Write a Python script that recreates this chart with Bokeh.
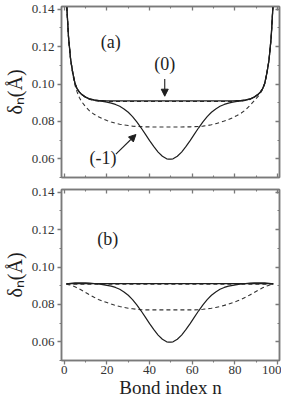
from bokeh.plotting import figure
from bokeh.models import (LinearAxis, FixedTicker, PrintfTickFormatter, Label, Arrow,
                          NormalHead, Range1d, CustomJSTickFormatter)
from bokeh.layouts import column
from bokeh.embed import file_html
from bokeh.resources import INLINE

# ---------------- data ----------------
bond_n = [1, 2, 3, 4, 5, 6, 7, 8, 10, 12, 14, 16, 18, 20, 22, 24, 26, 28, 30, 32, 34, 36, 38, 40,
          42, 44, 46, 48, 49, 50, 51, 53, 55, 57, 59, 61, 63, 65, 67, 69, 71, 73, 75, 77, 79, 81,
          83, 85, 87, 89, 91, 92, 93, 94, 95, 96, 97, 98]

# panel (a)
a_solid_0 = [0.1450, 0.1250, 0.1130, 0.1060, 0.1005, 0.0975, 0.0958, 0.0946,
             0.0930, 0.0920, 0.0915, 0.0912, 0.0911, 0.0910, 0.0910, 0.0910, 0.0910, 0.0910,
             0.0910, 0.0910, 0.0910, 0.0910, 0.0910, 0.0910, 0.0910, 0.0910, 0.0910, 0.0910,
             0.0910, 0.0910,
             0.0910, 0.0910, 0.0910, 0.0910, 0.0910, 0.0910, 0.0910, 0.0910, 0.0910, 0.0910,
             0.0910, 0.0910, 0.0910, 0.0910, 0.0910, 0.0911, 0.0912, 0.0915, 0.0920, 0.0930,
             0.0946, 0.0958, 0.0975, 0.1005, 0.1060, 0.1130, 0.1250, 0.1450]
a_dash_0 = [0.1450, 0.1250, 0.1130, 0.1060, 0.1005, 0.0975, 0.0958, 0.0946,
            0.0929, 0.0918, 0.0912, 0.0909, 0.0908, 0.0907, 0.0907, 0.0907, 0.0907, 0.0907,
            0.0907, 0.0907, 0.0907, 0.0907, 0.0907, 0.0907, 0.0907, 0.0907, 0.0907, 0.0907,
            0.0907, 0.0907,
            0.0907, 0.0907, 0.0907, 0.0907, 0.0907, 0.0907, 0.0907, 0.0907, 0.0907, 0.0907,
            0.0907, 0.0907, 0.0907, 0.0907, 0.0907, 0.0908, 0.0909, 0.0912, 0.0918, 0.0929,
            0.0946, 0.0958, 0.0975, 0.1005, 0.1060, 0.1130, 0.1250, 0.1450]
a_solid_m1 = [0.1450, 0.1250, 0.1130, 0.1060, 0.1005, 0.0975, 0.0958, 0.0946,
              0.0930, 0.0919, 0.0914, 0.0910, 0.0907, 0.0903, 0.0898, 0.0891, 0.0881, 0.0867,
              0.0849, 0.0826, 0.0798, 0.0766, 0.0732, 0.0697, 0.0665, 0.0636, 0.0614, 0.0600,
              0.0598, 0.0598,
              0.0600, 0.0614, 0.0636, 0.0665, 0.0697, 0.0732, 0.0766, 0.0798, 0.0826, 0.0849,
              0.0867, 0.0881, 0.0891, 0.0898, 0.0903, 0.0907, 0.0910, 0.0914, 0.0919, 0.0930,
              0.0946, 0.0958, 0.0975, 0.1005, 0.1060, 0.1130, 0.1250, 0.1450]
a_dash_m1 = [0.1450, 0.1250, 0.1125, 0.1050, 0.0995, 0.0958, 0.0930, 0.0908,
             0.0878, 0.0855, 0.0838, 0.0825, 0.0814, 0.0805, 0.0797, 0.0790, 0.0785, 0.0781,
             0.0778, 0.0775, 0.0773, 0.0772, 0.0771, 0.0771, 0.0770, 0.0770, 0.0770, 0.0770,
             0.0770, 0.0770,
             0.0770, 0.0770, 0.0770, 0.0771, 0.0771, 0.0772, 0.0773, 0.0775, 0.0778, 0.0782,
             0.0788, 0.0795, 0.0802, 0.0810, 0.0820, 0.0832, 0.0845, 0.0862, 0.0885, 0.0910,
             0.0936, 0.0952, 0.0972, 0.1002, 0.1056, 0.1128, 0.1250, 0.1450]

# panel (b)
b_solid_0 = [0.0911, 0.0911, 0.0911, 0.0911, 0.0911, 0.0911, 0.0911, 0.0911, 0.0911, 0.0911,
             0.0911, 0.0911, 0.0911, 0.0911, 0.0911, 0.0911, 0.0911, 0.0911, 0.0911, 0.0911,
             0.0911, 0.0911, 0.0911, 0.0911, 0.0911, 0.0911, 0.0911, 0.0911, 0.0911, 0.0911,
             0.0911, 0.0911, 0.0911, 0.0911, 0.0911, 0.0911, 0.0911, 0.0911, 0.0911, 0.0911,
             0.0911, 0.0911, 0.0911, 0.0911, 0.0911, 0.0911, 0.0911, 0.0911, 0.0911, 0.0911,
             0.0911, 0.0911, 0.0911, 0.0911, 0.0911, 0.0911, 0.0911, 0.0911]
b_dash_0 = [0.0908, 0.0908, 0.0908, 0.0908, 0.0908, 0.0908, 0.0908, 0.0908, 0.0908, 0.0908,
            0.0908, 0.0908, 0.0908, 0.0908, 0.0908, 0.0908, 0.0908, 0.0908, 0.0908, 0.0908,
            0.0908, 0.0908, 0.0908, 0.0908, 0.0908, 0.0908, 0.0908, 0.0908, 0.0908, 0.0908,
            0.0908, 0.0908, 0.0908, 0.0908, 0.0908, 0.0908, 0.0908, 0.0908, 0.0908, 0.0908,
            0.0908, 0.0908, 0.0908, 0.0908, 0.0908, 0.0908, 0.0908, 0.0908, 0.0908, 0.0908,
            0.0908, 0.0908, 0.0908, 0.0908, 0.0908, 0.0908, 0.0908, 0.0908]
b_solid_m1 = [0.0910, 0.0912, 0.0913, 0.0914, 0.0915, 0.0915, 0.0915, 0.0915,
              0.0915, 0.0914, 0.0912, 0.0910, 0.0906, 0.0902, 0.0898, 0.0891, 0.0881, 0.0867,
              0.0849, 0.0826, 0.0798, 0.0766, 0.0732, 0.0697, 0.0665, 0.0636, 0.0614, 0.0600,
              0.0598, 0.0598,
              0.0600, 0.0614, 0.0636, 0.0665, 0.0697, 0.0732, 0.0766, 0.0798, 0.0826, 0.0849,
              0.0867, 0.0881, 0.0891, 0.0898, 0.0902, 0.0906, 0.0910, 0.0912, 0.0914, 0.0915,
              0.0915, 0.0915, 0.0915, 0.0915, 0.0914, 0.0913, 0.0912, 0.0910]
b_dash_m1 = [0.0908, 0.0906, 0.0903, 0.0899, 0.0894, 0.0889, 0.0883, 0.0877,
             0.0864, 0.0851, 0.0838, 0.0827, 0.0818, 0.0810, 0.0802, 0.0795, 0.0789, 0.0784,
             0.0780, 0.0777, 0.0774, 0.0772, 0.0771, 0.0771, 0.0771, 0.0771, 0.0771, 0.0771,
             0.0771, 0.0771,
             0.0771, 0.0771, 0.0771, 0.0771, 0.0771, 0.0771, 0.0772, 0.0774, 0.0777, 0.0780,
             0.0784, 0.0789, 0.0795, 0.0802, 0.0810, 0.0818, 0.0827, 0.0838, 0.0851, 0.0864,
             0.0877, 0.0883, 0.0889, 0.0894, 0.0899, 0.0903, 0.0906, 0.0908]

x_ticks = [0, 20, 40, 60, 80, 100]
x_minor = [10, 30, 50, 70, 90]
y_ticks = [0.06, 0.08, 0.10, 0.12, 0.14]
y_minor = [0.05, 0.07, 0.09, 0.11, 0.13]

y_title = "δₙ(Å)"
x_title = "Bond index n"

# ---------------- layout ----------------
W = 281
X0, X1 = -1.3, 100.9
Y0, Y1 = 0.05, 0.1415

AX = "#7a7a7a"
FONT = "Liberation Serif"
INK = "#1e1e1e"


def make_panel(height, top, bottom, show_x):
    p = figure(width=W, height=height, x_range=Range1d(X0, X1), y_range=Range1d(Y0, Y1),
               output_backend="svg", toolbar_location=None,
               min_border_left=60, min_border_right=2, min_border_top=top,
               min_border_bottom=bottom)
    p.xgrid.visible = False
    p.ygrid.visible = False
    p.outline_line_color = AX
    p.outline_line_width = 1.5
    p.background_fill_color = "white"
    p.border_fill_color = "white"

    def base(ax):
        ax.axis_line_color = AX
        ax.axis_line_width = 1.5
        ax.major_tick_line_color = AX
        ax.minor_tick_line_color = AX
        ax.major_tick_line_width = 1.3
        ax.minor_tick_line_width = 1.1
        ax.major_label_text_font = FONT
        ax.major_label_text_font_size = "13px"
        ax.major_label_text_color = "#333333"
        ax.axis_label_text_font = FONT
        ax.axis_label_text_font_style = "normal"
        ax.axis_label_text_color = INK

    def hidden(ax):
        base(ax)
        ax.major_tick_in = 4
        ax.major_tick_out = 0
        ax.minor_tick_in = 2
        ax.minor_tick_out = 0
        ax.major_label_standoff = 0
        ax.major_label_text_font_size = "0px"
        ax.formatter = CustomJSTickFormatter(code="return ''")

    yl = p.yaxis[0]
    base(yl)
    yl.ticker = FixedTicker(ticks=y_ticks, minor_ticks=y_minor)
    yl.formatter = PrintfTickFormatter(format="%.2f")
    yl.major_tick_out = 4
    yl.major_tick_in = 0
    yl.minor_tick_out = 2
    yl.minor_tick_in = 0
    yl.major_label_standoff = 3
    yl.axis_label = y_title
    yl.axis_label_text_font_size = "20px"
    yl.axis_label_standoff = 3

    xb = p.xaxis[0]
    xb.ticker = FixedTicker(ticks=x_ticks, minor_ticks=x_minor)
    if show_x:
        base(xb)
        xb.major_tick_out = 4
        xb.major_tick_in = 0
        xb.minor_tick_out = 2
        xb.minor_tick_in = 0
        xb.major_label_standoff = 1
        xb.axis_label = x_title
        xb.axis_label_text_font_size = "19px"
        xb.axis_label_standoff = 0
    else:
        hidden(xb)

    yr = LinearAxis(ticker=FixedTicker(ticks=y_ticks, minor_ticks=y_minor))
    hidden(yr)
    p.add_layout(yr, "right")
    xt = LinearAxis(ticker=FixedTicker(ticks=x_ticks, minor_ticks=x_minor))
    hidden(xt)
    p.add_layout(xt, "above")
    return p


def curves(p, dash0, solid0, dashm1, solidm1):
    p.line(bond_n, dash0, line_color="#333333", line_width=1.1, line_dash="4 3")
    p.line(bond_n, dashm1, line_color="#333333", line_width=1.1, line_dash="4 3")
    p.line(bond_n, solid0, line_color=INK, line_width=1.3)
    p.line(bond_n, solidm1, line_color=INK, line_width=1.2)


def tag(p, x, y, text):
    p.add_layout(Label(x=x, y=y, text=text, text_align="center", text_baseline="middle",
                       text_font=FONT, text_font_size="18px", text_color=INK))


# ---------------- panel (a) ----------------
p1 = make_panel(183, 6, 6, False)
curves(p1, a_dash_0, a_solid_0, a_dash_m1, a_solid_m1)
tag(p1, 21.8, 0.1225, "(a)")
tag(p1, 47.1, 0.1105, "(0)")
tag(p1, 18.2, 0.0603, "(-1)")
p1.add_layout(Arrow(end=NormalHead(size=7, line_color=INK, fill_color=INK, line_width=1),
                    x_start=47.1, y_start=0.1027, x_end=47.1, y_end=0.0935,
                    line_color=INK, line_width=1.1))
p1.add_layout(Arrow(end=NormalHead(size=7, line_color=INK, fill_color=INK, line_width=1),
                    x_start=24.2, y_start=0.0625, x_end=33.6, y_end=0.0730,
                    line_color=INK, line_width=1.1))

# ---------------- panel (b) ----------------
p2 = make_panel(219, 6, 42, True)
curves(p2, b_dash_0, b_solid_0, b_dash_m1, b_solid_m1)
tag(p2, 20.4, 0.115, "(b)")

layout = column(p1, p2)
open("out.html", "w").write(file_html(layout, INLINE))
